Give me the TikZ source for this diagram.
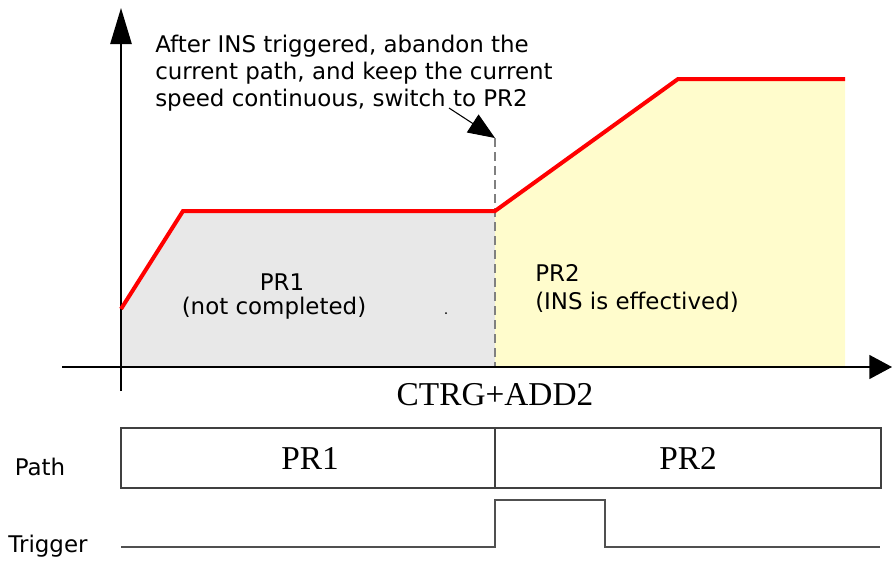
\documentclass[tikz,border=0pt]{standalone}
\usepackage{fontspec}
\setmainfont{Liberation Serif}
\setsansfont{DejaVu Sans}
\usetikzlibrary{arrows.meta}
\definecolor{prgray}{HTML}{E8E8E8}
\definecolor{pryellow}{HTML}{FFFCCC}
\definecolor{wavegray}{HTML}{505050}

\begin{document}
\begin{tikzpicture}[x=0.75pt,y=-0.75pt]
    	\tikzstyle{axis}=[line width=1.1pt, black]
    	\tikzstyle{speed}=[line width=3pt, red]
    	\tikzstyle{txt}=[font=\sffamily\fontsize{17.2}{20}\selectfont, inner sep=0pt]
    	\tikzstyle{serif}=[font=\rmfamily\fontsize{25}{28}\selectfont, inner sep=0pt]
    	\tikzstyle{wave}=[line width=1.4pt, wavegray]
    	
    	\useasboundingbox (0,0) rectangle (892,561);
    	
    	% Speed profile
    	\coordinate (p_1) at (121,309);
    	\coordinate (p_2) at (183,211);
    	\coordinate (p_3) at (495,211);
    	\coordinate (p_4) at (678,79);
    	\coordinate (p_5) at (845,79);
    	\coordinate (base_1) at (121,367);
    	\coordinate (base_3) at (495,367);
    	\coordinate (base_5) at (845,367);
    	
    	\fill [prgray] (base_1) -- (p_1) -- (p_2) -- (p_3) -- (base_3) -- cycle;
    	\fill [pryellow] (base_3) -- (p_3) -- (p_4) -- (p_5) -- (base_5) -- cycle;
    	\draw [gray, line width=0.9pt, dash pattern=on 7pt off 3.5pt] (495,138) -- (base_3);
    	\fill (446,313) circle (1);
    	
    	% Axes
    	\coordinate (x_from) at (62,367);
    	\coordinate (x_to) at (892,367);
    	\coordinate (y_from) at (121,391);
    	\coordinate (y_to) at (121,8);
    	\draw [axis, -{Triangle[length=17pt, width=18pt]}] (x_from) to (x_to);
    	\draw [axis, -{Triangle[length=27pt, width=16pt]}] (y_from) to (y_to);
    	
    	\draw [speed] (p_1) -- (p_2) -- (p_3) -- (p_4) -- (p_5);
    	
    	% Labels
    	\node at (155,35) [txt, anchor=north west, align=left] (note)
    	{After INS triggered, abandon the\\current path, and keep the current\\speed continuous, switch to PR2};
    	\coordinate (note_tail) at (449,108);
    	\coordinate (switch) at (495,138);
    	\draw [line width=0.8pt, -{Triangle[length=20pt, width=16pt]}] (note_tail) to (switch);
    	
    	\node at (282,282) [txt] (pr1) {PR1};
    	\node at (274,308) [txt] (pr1_note) {(not completed)};
    	\node at (535,273) [txt, anchor=west] (pr2) {PR2};
    	\node at (535,302) [txt, anchor=west] (pr2_note) {(INS is effectived)};
    	\node at (495,395) [serif] (xlabel) {CTRG+ADD2};
    	
    	% Path
    	\node at (40,467) [txt] (path_lbl) {Path};
    	\draw [line width=1.2pt, black!75] (121,428) rectangle (495,488);
    	\draw [line width=1.2pt, black!75] (495,428) rectangle (881,488);
    	\node at (310,458) [serif] (path_1) {PR1};
    	\node at (688,458) [serif] (path_2) {PR2};
    	
    	% Trigger
    	\node at (48,546) [txt] (trig_lbl) {Trigger};
    	\draw [wave] (121,547) -| (495,500) -| (605,547) -- (880,547);

    \end{tikzpicture}
\end{document}
